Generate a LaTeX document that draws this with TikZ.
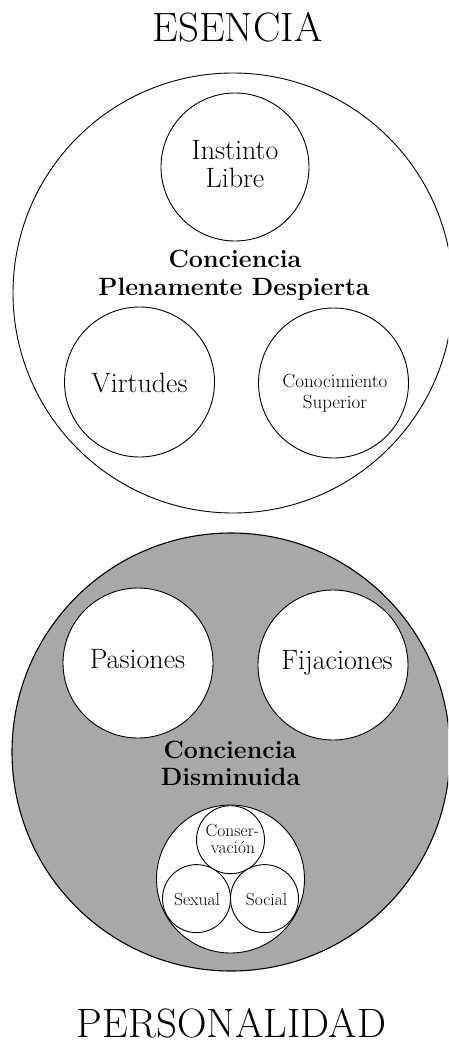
\documentclass[tikz,border=0pt]{standalone}
\usepackage{fontspec}
\definecolor{fillgray}{RGB}{168,168,168}
\tikzset{
  ring/.style={circle, draw=black, line width=0.9pt, inner sep=0pt, fill=white},
  bigring/.style={circle, draw=black, line width=0.9pt, inner sep=0pt},
  txt/.style={anchor=base, inner sep=0pt, font=\fontsize{28}{28}\selectfont},
  smalltxt/.style={anchor=base, inner sep=0pt, font=\fontsize{19}{19}\selectfont},
  tinytxt/.style={anchor=base, inner sep=0pt, font=\fontsize{17.5}{17.5}\selectfont},
  boldtxt/.style={anchor=base, inner sep=0pt, font=\fontsize{25}{25}\selectfont\bfseries},
  titletxt/.style={anchor=base, inner sep=0pt, font=\fontsize{41}{41}\selectfont}
}
\begin{document}
\begin{tikzpicture}[x=1pt, y=-1pt]
\useasboundingbox (0,0) rectangle (448,1043);
\clip (0,0) rectangle (448,1043);
% ---------- ESENCIA ----------
\node[titletxt] (esencia) at (237.5,42) {ESENCIA};
\node[bigring, minimum size=440] (essence) at (233,293) {};
\node[ring, minimum size=148] (instinto) at (235,167) {};
\node[txt] (instintoA) at (235,160) {Instinto};
\node[txt] (instintoB) at (235,188) {Libre};
\node[boldtxt] (concA) at (235,267) {Conciencia};
\node[boldtxt] (concB) at (234,295) {Plenamente Despierta};
\node[ring, minimum size=150] (virtudes) at (139.5,382) {};
\node[txt] (virtudesT) at (139.5,392) {Virtudes};
\node[ring, minimum size=150] (conoc) at (333.5,383) {};
\node[smalltxt] (conocA) at (335,387) {Conocimiento};
\node[smalltxt] (conocB) at (335,408) {Superior};
% ---------- PERSONALIDAD ----------
\node[bigring, fill=fillgray, line width=1.1pt, minimum size=438] (person) at (231,752) {};
\node[ring, minimum size=150] (pasiones) at (138,663) {};
\node[txt] (pasionesT) at (137.5,668) {Pasiones};
\node[ring, minimum size=150] (fijaciones) at (333,665) {};
\node[txt] (fijacionesT) at (337,669) {Fijaciones};
\node[boldtxt] (dimA) at (230,758) {Conciencia};
\node[boldtxt] (dimB) at (230.5,785) {Disminuida};
\node[ring, minimum size=148] (instintos) at (230.5,879) {};
\node[ring, minimum size=68] (conserv) at (230.5,839.7) {};
\node[ring, minimum size=68] (sexual) at (196.5,898.6) {};
\node[ring, minimum size=68] (social) at (264.5,898.6) {};
\node[tinytxt] (conservA) at (232.5,836.5) {Conser-};
\node[tinytxt] (conservB) at (233,853.5) {vación};
\node[tinytxt] (sexualT) at (197,905) {Sexual};
\node[tinytxt] (socialT) at (266.5,905) {Social};
\node[titletxt] (personalidad) at (231.5,1037) {PERSONALIDAD};
\end{tikzpicture}
\end{document}
